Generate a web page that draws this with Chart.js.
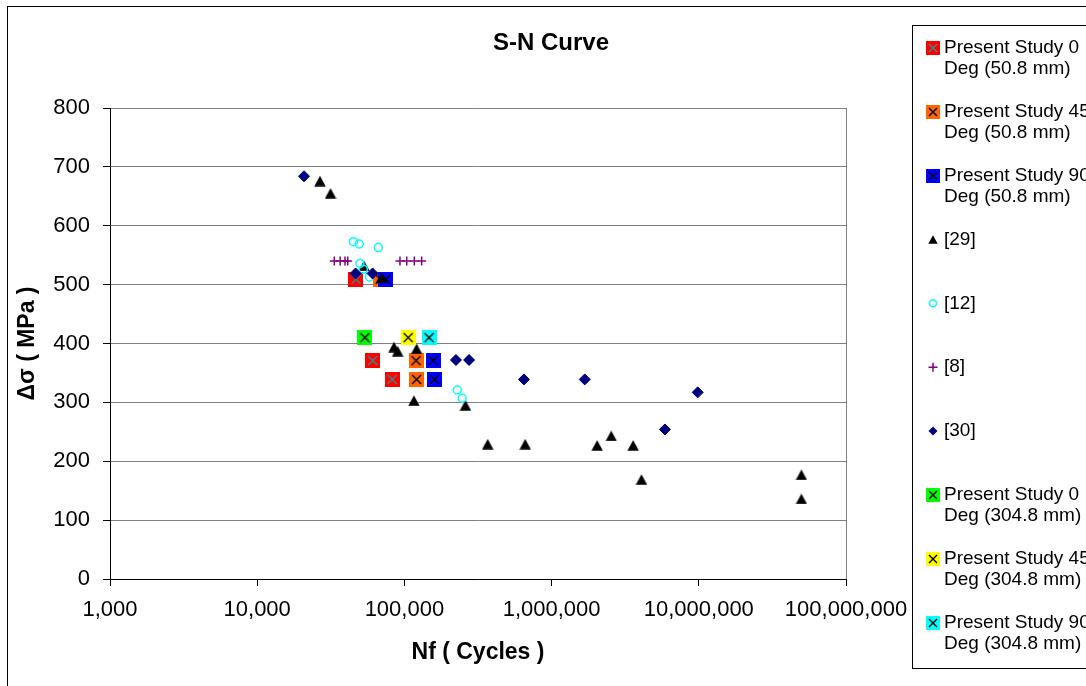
<!DOCTYPE html>
<html>
<head>
<meta charset="utf-8">
<script src="https://cdn.jsdelivr.net/npm/chart.js@4/dist/chart.umd.min.js"></script>
<style>
html,body{margin:0;padding:0;background:#fff;}
#wrap{position:relative;width:1086px;height:686px;overflow:hidden;}
</style>
</head>
<body>
<div id="wrap"><canvas id="c" width="1086" height="686"></canvas></div>
<script>
// ---------- DATA ----------
const seriesNames = [
  ["Present Study 0", "Deg (50.8 mm)"],
  ["Present Study 45", "Deg (50.8 mm)"],
  ["Present Study 90", "Deg (50.8 mm)"],
  ["[29]"],
  ["[12]"],
  ["[8]"],
  ["[30]"],
  ["Present Study 0", "Deg (304.8 mm)"],
  ["Present Study 45", "Deg (304.8 mm)"],
  ["Present Study 90", "Deg (304.8 mm)"]
];

const ps0_50_x  = [46900, 60900, 82600];
const ps0_50_y  = [509, 371, 339];
const ps45_50_x = [68500, 120000, 121000];
const ps45_50_y = [509, 371, 339];
const ps90_50_x = [74800, 157000, 160000];
const ps90_50_y = [509, 371, 339];

const ref29_x = [26700, 31500, 53200, 70000, 85000, 90000, 121000, 116000, 260000, 368000, 662000, 2040000, 2540000, 3580000, 4080000, 49800000, 49800000];
const ref29_y = [676, 655, 532, 512, 394, 387, 391, 303, 295, 229, 229, 227, 243, 227, 169, 177, 136];

const ref12_x = [45000, 49400, 66500, 49900, 52600, 57800, 229000, 247000];
const ref12_y = [573, 569, 563, 536, 526, 513, 321, 307];

const ref8_x = [33400, 36600, 39500, 41200, 93300, 103700, 116800, 131000];
const ref8_y = [540, 540, 540, 540, 540, 540, 540, 540];

const ref30_x = [20800, 46600, 60800, 224000, 275000, 649000, 1680000, 9830000, 5890000];
const ref30_y = [684, 519, 519, 372, 372, 339, 339, 317, 254];

const ps0_304_x  = [53900];
const ps0_304_y  = [410];
const ps45_304_x = [106000];
const ps45_304_y = [410];
const ps90_304_x = [147000];
const ps90_304_y = [410];

const xTickValues = [1000, 10000, 100000, 1000000, 10000000, 100000000];
const yTickValues = [0, 100, 200, 300, 400, 500, 600, 700, 800];

const chartTitle = "S-N Curve";
const xTitle = "Nf ( Cycles )";
const yTitle = "Δσ ( MPa )";

// ---------- MARKERS ----------
const FONT = "'Liberation Sans', Arial, Helvetica, sans-serif";

function squareX(fill, xColor, size) {
  const c = document.createElement('canvas');
  c.width = size; c.height = size;
  const g = c.getContext('2d');
  g.fillStyle = fill; g.fillRect(0, 0, size, size);
  g.strokeStyle = xColor; g.lineWidth = 1.4;
  const i = 3;
  g.beginPath();
  g.moveTo(i, i); g.lineTo(size - i, size - i);
  g.moveTo(size - i, i); g.lineTo(i, size - i);
  g.stroke();
  return c;
}
function triangleImg(w, h) {
  const c = document.createElement('canvas');
  c.width = w; c.height = h;
  const g = c.getContext('2d');
  g.fillStyle = '#000';
  g.beginPath();
  g.moveTo(w / 2, 0.3); g.lineTo(w - 0.3, h - 0.3); g.lineTo(0.3, h - 0.3);
  g.closePath(); g.fill();
  return c;
}

const psColors = [
  ['#FF0000', '#2F8F8F'],
  ['#FF6600', '#000000'],
  ['#0000FF', '#000000'],
  ['#00FF00', '#000000'],
  ['#FFFF00', '#000000'],
  ['#00FFFF', '#000000']
];
const psPlot = psColors.map(c => squareX(c[0], c[1], 15));
const psLeg  = psColors.map(c => squareX(c[0], c[1], 14));
const triPlot = triangleImg(12, 11);
const triLeg = triangleImg(10, 9);

function pts(xs, ys) { return xs.map((x, i) => ({ x: x, y: ys[i] })); }

function psSet(i, name, xs, ys, order) {
  return {
    label: name.join(' '), data: pts(xs, ys),
    pointStyle: psPlot[i], pointRadius: 8, order: order
  };
}

const datasets = [
  psSet(0, seriesNames[0], ps0_50_x, ps0_50_y, 10),
  psSet(1, seriesNames[1], ps45_50_x, ps45_50_y, 9),
  psSet(2, seriesNames[2], ps90_50_x, ps90_50_y, 8),
  { label: seriesNames[3][0], data: pts(ref29_x, ref29_y), pointStyle: triPlot, pointRadius: 6, order: 7 },
  { label: seriesNames[4][0], data: pts(ref12_x, ref12_y), pointStyle: 'circle', pointRadius: 4,
    borderColor: '#00FFFF', backgroundColor: 'rgba(0,0,0,0)', borderWidth: 1.5, order: 6 },
  { label: seriesNames[5][0], data: pts(ref8_x, ref8_y), pointStyle: 'cross', pointRadius: 4.5,
    borderColor: '#800080', backgroundColor: '#800080', borderWidth: 1.5, order: 5 },
  { label: seriesNames[6][0], data: pts(ref30_x, ref30_y), pointStyle: 'rectRot', pointRadius: 5.5,
    borderColor: '#000080', backgroundColor: '#000080', borderWidth: 1, order: 4 },
  psSet(3, seriesNames[7], ps0_304_x, ps0_304_y, 3),
  psSet(4, seriesNames[8], ps45_304_x, ps45_304_y, 2),
  psSet(5, seriesNames[9], ps90_304_x, ps90_304_y, 1)
];

// ---------- PLUGINS ----------
const decor = {
  id: 'decor',
  beforeDraw(chart) {
    const ctx = chart.ctx;
    ctx.save();
    ctx.fillStyle = '#fff';
    ctx.fillRect(0, 0, chart.width, chart.height);
    ctx.strokeStyle = '#000'; ctx.lineWidth = 1;
    ctx.strokeRect(7.5, 6.5, 2000, 2000);
    ctx.restore();
  },
  afterDatasetsDraw(chart) {
    const ctx = chart.ctx, a = chart.chartArea;
    ctx.save();
    ctx.strokeStyle = '#808080'; ctx.lineWidth = 1;
    ctx.beginPath();
    ctx.moveTo(Math.round(a.right) + 0.5, a.top);
    ctx.lineTo(Math.round(a.right) + 0.5, a.bottom);
    ctx.stroke();
    ctx.restore();
  },
  afterDraw(chart) {
    const ctx = chart.ctx;
    ctx.save();
    // title
    ctx.fillStyle = '#000';
    ctx.font = 'bold 24px ' + FONT;
    ctx.textAlign = 'center'; ctx.textBaseline = 'middle';
    ctx.fillText(chartTitle, 551, 43);
    // legend box
    ctx.strokeStyle = '#000'; ctx.lineWidth = 1;
    ctx.strokeRect(912.5, 25.5, 400, 643);
    ctx.font = '19px ' + FONT;
    ctx.textAlign = 'left';
    const mx = 933, tx = 944, y0 = 47.7, step = 63.9;
    seriesNames.forEach((lines, k) => {
      const y = y0 + step * k;
      if (k <= 2 || k >= 7) {
        const idx = k <= 2 ? k : k - 4;
        ctx.drawImage(psLeg[idx], mx - 7, Math.round(y - 7));
      } else if (k === 3) {
        ctx.drawImage(triLeg, mx - 5, Math.round(y - 4.5));
      } else if (k === 4) {
        ctx.strokeStyle = '#00FFFF'; ctx.lineWidth = 1.5;
        ctx.beginPath(); ctx.arc(mx, y, 3.5, 0, Math.PI * 2); ctx.stroke();
      } else if (k === 5) {
        ctx.strokeStyle = '#800080'; ctx.lineWidth = 1.5;
        ctx.beginPath();
        ctx.moveTo(mx - 4.5, y); ctx.lineTo(mx + 4.5, y);
        ctx.moveTo(mx, y - 4.5); ctx.lineTo(mx, y + 4.5);
        ctx.stroke();
      } else if (k === 6) {
        ctx.fillStyle = '#000080';
        ctx.beginPath();
        ctx.moveTo(mx, y - 4.5); ctx.lineTo(mx + 4.5, y); ctx.lineTo(mx, y + 4.5); ctx.lineTo(mx - 4.5, y);
        ctx.closePath(); ctx.fill();
      }
      ctx.fillStyle = '#000';
      lines.forEach((t, j) => ctx.fillText(t, tx, y + j * 21));
    });
    ctx.restore();
  }
};

// ---------- CHART ----------
new Chart(document.getElementById('c'), {
  type: 'scatter',
  data: { datasets: datasets },
  plugins: [decor],
  options: {
    responsive: false,
    animation: false,
    events: [],
    devicePixelRatio: 1,
    layout: { padding: { top: 108, right: 240, bottom: 0, left: 0 } },
    plugins: { legend: { display: false }, title: { display: false }, tooltip: { enabled: false } },
    scales: {
      x: {
        type: 'logarithmic', position: 'bottom',
        min: xTickValues[0], max: xTickValues[xTickValues.length - 1],
        afterBuildTicks: s => { s.ticks = xTickValues.map(v => ({ value: v })); },
        afterFit: s => { s.height = 107; },
        ticks: {
          callback: v => Number(v).toLocaleString('en-US'),
          font: { family: FONT, size: 22 }, color: '#000', padding: 11,
          maxRotation: 0, autoSkip: false
        },
        grid: { drawOnChartArea: false, drawTicks: true, tickLength: 7, tickColor: '#000' },
        border: { color: '#000', width: 1 },
        title: { display: true, text: xTitle, color: '#000',
          font: { family: FONT, size: 23, weight: 'bold' }, padding: { top: 0, bottom: 20 } }
      },
      y: {
        type: 'linear', position: 'left',
        min: yTickValues[0], max: yTickValues[yTickValues.length - 1],
        afterBuildTicks: s => { s.ticks = yTickValues.map(v => ({ value: v })); },
        afterFit: s => { s.width = 110; },
        ticks: { font: { family: FONT, size: 22 }, color: '#000', padding: 13 },
        grid: { color: '#808080', lineWidth: 1, drawTicks: true, tickLength: 7, tickColor: '#000' },
        border: { color: '#000', width: 1 },
        title: { display: true, text: yTitle, color: '#000',
          font: { family: FONT, size: 23, weight: 'bold' }, padding: { top: 14, bottom: 0 } }
      }
    }
  }
});
</script>
</body>
</html>
